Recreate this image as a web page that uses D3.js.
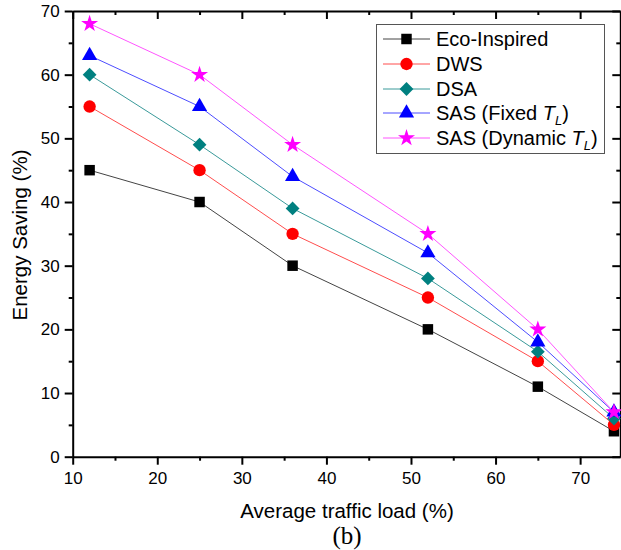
<!DOCTYPE html>
<html>
<head>
<meta charset="utf-8">
<script src="https://cdn.jsdelivr.net/npm/d3@7"></script>
<style>
  body { margin: 0; background: #fff; }
  svg { display: block; font-family: "Liberation Sans", Arial, sans-serif; }
</style>
</head>
<body>
<svg id="chart"></svg>
<script>
// values
const load = [12, 25, 36, 52, 65, 74];
const ecoInspired = [45, 40, 30, 20, 11, 4];
const dws = [55, 45, 35, 25, 15, 5];
const dsa = [60, 49, 39, 28, 16.5, 6];
const sasFixed = [63, 55, 44, 32, 18, 7];
const sasDynamic = [68, 60, 49, 35, 20, 7];
const xTicks = [10, 20, 30, 40, 50, 60, 70];
const yTicks = [0, 10, 20, 30, 40, 50, 60, 70];

const seriesNames = ["Eco-Inspired", "DWS", "DSA", "SAS (Fixed T_L)", "SAS (Dynamic T_L)"];
const seriesValues = [ecoInspired, dws, dsa, sasFixed, sasDynamic];
const colors = ["#000000", "#ff0000", "#008080", "#0000ff", "#ff00ff"];
const lineColors = ["#444444", "#ff4d4d", "#3a9a9a", "#4d4dff", "#ff55ff"];
const symbols = [d3.symbolSquare, d3.symbolCircle, d3.symbolSquare, d3.symbolTriangle, d3.symbolStar];
const symSizes = [110, 120, 95, 100, 90];
const symRotate = [0, 0, 45, 0, 0];

const width = 621, height = 550;
const svg = d3.select("#chart").attr("width", width).attr("height", height);

const x = d3.scaleLinear().domain([10, 74.75]).range([72.7, 620.3]);
const y = d3.scaleLinear().domain([0, 70]).range([456.7, 11]);

const minorX = d3.range(15, 75, 10);
const minorY = d3.range(5, 70, 10);

function styleAxis(g) {
  g.selectAll("path.domain").attr("stroke", "#000").attr("stroke-width", 2);
  g.selectAll(".tick line").attr("stroke", "#000").attr("stroke-width", 2);
  g.selectAll("text").attr("font-size", 17).attr("fill", "#000")
    .attr("font-family", "Liberation Sans, Arial, sans-serif");
}

// bottom
svg.append("g").attr("transform", `translate(0,${y(0)})`)
  .call(d3.axisBottom(x).tickValues(xTicks).tickSize(8).tickSizeOuter(0).tickPadding(7))
  .call(styleAxis);
svg.append("g").attr("transform", `translate(0,${y(0)})`)
  .call(d3.axisBottom(x).tickValues(minorX).tickSize(4).tickFormat(""))
  .call(g => g.select(".domain").remove()).call(styleAxis);
// left
svg.append("g").attr("transform", `translate(${x(10)},0)`)
  .call(d3.axisLeft(y).tickValues(yTicks).tickSize(8).tickSizeOuter(0).tickPadding(5))
  .call(styleAxis);
svg.append("g").attr("transform", `translate(${x(10)},0)`)
  .call(d3.axisLeft(y).tickValues(minorY).tickSize(4).tickFormat(""))
  .call(g => g.select(".domain").remove()).call(styleAxis);
// top (inward ticks)
svg.append("g").attr("transform", `translate(0,${y(70)})`)
  .call(d3.axisTop(x).tickValues(xTicks).tickSize(-8).tickSizeOuter(0).tickFormat(""))
  .call(styleAxis);
svg.append("g").attr("transform", `translate(0,${y(70)})`)
  .call(d3.axisTop(x).tickValues(minorX).tickSize(-4).tickFormat(""))
  .call(g => g.select(".domain").remove()).call(styleAxis);
// right (inward ticks)
svg.append("g").attr("transform", `translate(${x(74.75)},0)`)
  .call(d3.axisRight(y).tickValues(yTicks).tickSize(-8).tickSizeOuter(0).tickFormat(""))
  .call(styleAxis);
svg.append("g").attr("transform", `translate(${x(74.75)},0)`)
  .call(d3.axisRight(y).tickValues(minorY).tickSize(-4).tickFormat(""))
  .call(g => g.select(".domain").remove()).call(styleAxis);

// series
const line = d3.line().x((d, i) => x(load[i])).y(d => y(d));
seriesValues.forEach((vals, k) => {
  svg.append("path").datum(vals).attr("d", line)
    .attr("fill", "none").attr("stroke", lineColors[k]).attr("stroke-width", 1);
});
seriesValues.forEach((vals, k) => {
  svg.append("g").selectAll("path").data(vals).join("path")
    .attr("transform", (d, i) => `translate(${x(load[i])},${y(d)}) rotate(${symRotate[k]})`)
    .attr("d", d3.symbol(symbols[k], symSizes[k]))
    .attr("fill", colors[k]);
});

// axis titles
svg.append("text").attr("x", 347).attr("y", 518).attr("text-anchor", "middle")
  .attr("font-size", 20.5).text("Average traffic load (%)");
svg.append("text").attr("transform", "translate(27,235) rotate(-90)")
  .attr("text-anchor", "middle").attr("font-size", 20.5).text("Energy Saving (%)");
svg.append("text").attr("x", 347).attr("y", 544).attr("text-anchor", "middle")
  .attr("font-size", 25).attr("font-family", "Liberation Serif, Times New Roman, serif").text("(b)");

// legend
const lg = svg.append("g");
lg.append("rect").attr("x", 376.5).attr("y", 24.5).attr("width", 228).attr("height", 129)
  .attr("fill", "#fff").attr("stroke", "#555").attr("stroke-width", 1);
const rowY = [39, 64, 89, 113, 138];
seriesNames.forEach((name, k) => {
  lg.append("line").attr("x1", 383).attr("x2", 430).attr("y1", rowY[k]).attr("y2", rowY[k])
    .attr("stroke", lineColors[k]).attr("stroke-width", 1);
  lg.append("path").attr("transform", `translate(406.5,${rowY[k]}) rotate(${symRotate[k]})`)
    .attr("d", d3.symbol(symbols[k], symSizes[k])).attr("fill", colors[k]);
  const t = lg.append("text").attr("x", 436).attr("y", rowY[k] + 7).attr("font-size", 20);
  if (name.includes("T_L")) {
    t.append("tspan").text(name.replace(" T_L)", " "));
    t.append("tspan").attr("font-style", "italic").text("T");
    t.append("tspan").attr("font-style", "italic").attr("font-size", 13).attr("dy", 5).text("L");
    t.append("tspan").attr("dy", -5).text(")");
  } else {
    t.text(name);
  }
});
</script>
</body>
</html>
